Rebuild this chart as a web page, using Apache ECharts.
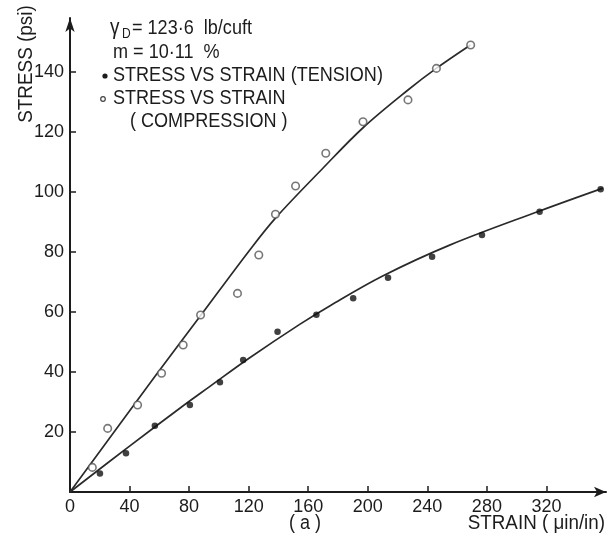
<!DOCTYPE html>
<html>
<head>
<meta charset="utf-8">
<script src="https://cdn.jsdelivr.net/npm/echarts@6/dist/echarts.min.js"></script>
<style>html,body{margin:0;padding:0;background:#fff}#c{width:608px;height:542px}</style>
</head>
<body>
<div id="c"></div>
<script>
// ---- data ----
const xTicks = [0, 40, 80, 120, 160, 200, 240, 280, 320];
const yTicks = [20, 40, 60, 80, 100, 120, 140];

const tensionStrain = [20.1, 37.6, 57, 80.5, 100.7, 116.3, 139.4, 165.5, 190.2, 213.6, 243.2, 276.7, 315.4, 356.4];
const tensionStress = [6.2, 12.9, 22.1, 29, 36.6, 44, 53.4, 59.1, 64.6, 71.4, 78.4, 85.7, 93.4, 100.9];

const compStrain = [15, 25.3, 45.4, 61.5, 76, 87.7, 112.5, 126.8, 138, 151.5, 171.8, 196.8, 227, 246.1, 269.1];
const compStress = [8.2, 21.2, 29, 39.6, 49, 59, 66.2, 79, 92.6, 102, 112.9, 123.4, 130.7, 141.2, 149];

// fitted curves as drawn in the reference
const tensionFitX = [0, 40, 74, 94, 120, 154, 175, 210, 255, 315, 358];
const tensionFitY = [0, 15.3, 28, 35.2, 44.5, 55.8, 62.2, 72, 82.3, 93.6, 101.3];
const compFitX = [0, 57, 88, 120, 138, 170, 197, 227, 246, 269];
const compFitY = [0, 38.5, 59, 80.2, 91.3, 108, 121.5, 134, 141.2, 149];

const zip = (a, b) => a.map((v, i) => [v, b[i]]);

const FONT = "'Liberation Sans', Arial, sans-serif";
const INK = '#1c1c1c';

const txt = (x, y, text, size, extra) => Object.assign({
  type: 'text', x: x, y: y, scaleX: 0.86,
  style: {text: text, font: size + 'px ' + FONT, fill: INK, verticalAlign: 'middle'}
}, extra || {});

const chart = echarts.init(document.getElementById('c'), null, {renderer: 'canvas'});
chart.setOption({
  animation: false,
  backgroundColor: '#fff',
  grid: {left: 70, top: 18, width: 536, height: 474, containLabel: false},
  xAxis: {
    type: 'value', min: 0, max: 360,
    splitLine: {show: false},
    axisLine: {show: true, symbol: ['none', 'arrow'], symbolSize: [8, 12], lineStyle: {color: INK, width: 2}},
    axisTick: {show: true, inside: true, length: 6, lineStyle: {color: INK, width: 1.5}, customValues: xTicks},
    axisLabel: {customValues: xTicks, margin: 6, fontSize: 18, fontFamily: FONT, color: INK}
  },
  yAxis: {
    type: 'value', min: 0, max: 158,
    splitLine: {show: false},
    axisLine: {show: true, symbol: ['none', 'arrow'], symbolSize: [7, 14], lineStyle: {color: INK, width: 2}},
    axisTick: {show: true, inside: true, length: 6, lineStyle: {color: INK, width: 1.5}, customValues: yTicks},
    axisLabel: {customValues: yTicks, margin: 6, fontSize: 18, fontFamily: FONT, color: INK}
  },
  series: [
    {type: 'line', data: zip(compFitX, compFitY), smooth: 0.35, showSymbol: false, lineStyle: {color: '#2a2a2a', width: 1.7}, z: 2},
    {type: 'line', data: zip(tensionFitX, tensionFitY), smooth: 0.35, showSymbol: false, lineStyle: {color: '#2a2a2a', width: 1.7}, z: 2},
    {type: 'scatter', data: zip(tensionStrain, tensionStress), symbol: 'circle', symbolSize: 6.5,
     itemStyle: {color: '#111'}, z: 3},
    {type: 'scatter', data: zip(compStrain, compStress), symbol: 'circle', symbolSize: 7.5,
     itemStyle: {color: '#fff', borderColor: '#555', borderWidth: 1.6}, z: 3}
  ],
  graphic: [
    {type: 'text', x: 26, y: 64, rotation: Math.PI / 2, scaleX: 0.9,
     style: {text: 'STRESS (psi)', font: '21px ' + FONT, fill: INK, align: 'center', verticalAlign: 'middle'}},
    txt(110, 28, 'γ', 22),
    txt(122, 34, 'D', 14),
    txt(132, 28, '= 123·6  lb/cuft', 21),
    txt(113, 52, 'm = 10·11  %', 21),
    {type: 'circle', shape: {cx: 105, cy: 76, r: 2.6}, style: {fill: INK}},
    txt(113, 75, 'STRESS VS STRAIN (TENSION)', 21),
    {type: 'circle', shape: {cx: 103, cy: 99, r: 2.3}, style: {fill: '#fff', stroke: '#444', lineWidth: 1.2}},
    txt(113, 98, 'STRESS VS STRAIN', 21),
    txt(130, 121, '( COMPRESSION )', 21),
    txt(305, 523, '( a )', 20, {scaleX: 0.9, style: {text: '( a )', font: '20px ' + FONT, fill: INK, align: 'center', verticalAlign: 'middle'}}),
    txt(605, 523, 'STRAIN ( μin/in)', 20, {scaleX: 0.94, style: {text: 'STRAIN ( μin/in)', font: '20px ' + FONT, fill: INK, align: 'right', verticalAlign: 'middle'}})
  ]
});
</script>
</body>
</html>
